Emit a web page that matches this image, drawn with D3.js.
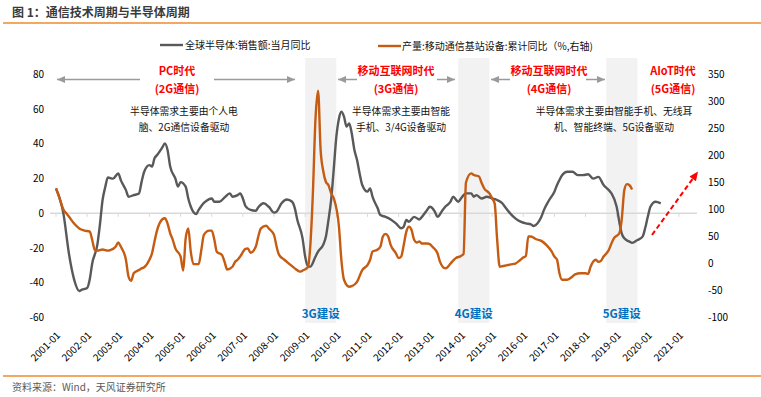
<!DOCTYPE html>
<html><head><meta charset="utf-8">
<script src="https://cdn.jsdelivr.net/npm/d3@7"></script>
<style>body{margin:0;background:#fff;} svg{display:block;font-family:"Noto Sans CJK SC","Noto Sans",sans-serif;}</style>
</head><body><svg id="c" width="761" height="397"></svg>
<script>
// ---------- DATA ----------
const semiDates = ["2001-01","2001-04","2001-06","2001-08","2001-10","2001-11","2002-01","2002-02","2002-03","2002-05","2002-06","2002-07","2002-08","2002-09","2002-11","2003-01","2003-02","2003-04","2003-05","2003-07","2003-09","2003-10","2003-11","2004-01","2004-02","2004-03","2004-04","2004-06","2004-07","2004-08","2004-09","2004-11","2004-12","2005-01","2005-03","2005-04","2005-05","2005-07","2005-08","2005-10","2005-11","2006-01","2006-02","2006-04","2006-06","2006-08","2006-09","2006-11","2006-12","2007-01","2007-02","2007-04","2007-06","2007-07","2007-09","2007-11","2008-01","2008-02","2008-04","2008-06","2008-08","2008-09","2008-10","2008-12","2009-01","2009-02","2009-03","2009-05","2009-06","2009-08","2009-09","2009-10","2009-11","2009-12","2010-01","2010-02","2010-03","2010-04","2010-05","2010-06","2010-07","2010-08","2010-09","2010-10","2010-11","2011-01","2011-02","2011-03","2011-05","2011-06","2011-08","2011-10","2011-12","2012-02","2012-03","2012-04","2012-05","2012-07","2012-09","2012-10","2012-12","2013-01","2013-03","2013-04","2013-06","2013-07","2013-09","2013-10","2013-12","2014-01","2014-03","2014-05","2014-06","2014-07","2014-09","2014-11","2015-01","2015-03","2015-05","2015-06","2015-08","2015-10","2015-12","2016-02","2016-04","2016-05","2016-07","2016-08","2016-09","2016-11","2017-01","2017-02","2017-03","2017-04","2017-06","2017-08","2017-10","2017-12","2018-02","2018-04","2018-06","2018-08","2018-10","2018-11","2019-01","2019-02","2019-03","2019-04","2019-06","2019-07","2019-09","2019-11","2019-12","2020-01","2020-02","2020-04","2020-06"];
const semiValues = [14.4,-1,-23,-38,-44.7,-44,-43,-38,-29,-18,-6,7.7,15,20.7,20,23,19,13.4,9.6,10.5,11.5,18,24,27.8,27,31.7,33.6,38,40.3,36.5,27,20,15.4,18,15.4,8.6,3.8,-0.4,2,6,7.3,8.6,6.7,6.7,9.2,11.5,9.6,10.5,11.5,8.6,4.2,2,1.5,3.5,5.8,3.8,0.4,1,6,8,6.7,3,-3.8,-14.4,-25,-30.3,-30.7,-25,-22,-18,-13.4,-3.8,7.7,25,44,54.7,58.5,55.7,50,51.8,46,36.5,30.7,23,16.3,12.5,14.4,9.6,2.9,-1,-2,-3.5,-5.8,-8.6,-7.7,-3.8,-4.8,-2,-3.5,-2,2,3.8,1,-2,2,3.8,6.7,9.6,6.7,8.6,11.5,11.5,9.6,10.5,8.6,9.6,8.6,7.7,5.8,3.8,0,-2.9,-4.8,-5.8,-6.3,-7.3,-4.8,-2,2,7.7,12.5,16.3,19.2,22,24,24,22,22,22.5,20,21,16.3,13.4,11.5,3.8,-4.8,-11.5,-14.4,-16.3,-17,-15.4,-13.4,-8.6,-2,3.8,6.7,5.8];

const baseDates = ["2001-01","2001-02","2001-04","2001-05","2001-06","2001-08","2001-10","2001-12","2002-02","2002-03","2002-04","2002-05","2002-07","2002-09","2002-10","2002-12","2003-01","2003-02","2003-04","2003-05","2003-06","2003-07","2003-09","2003-10","2003-11","2004-01","2004-02","2004-03","2004-04","2004-06","2004-07","2004-08","2004-09","2004-10","2004-11","2005-01","2005-02","2005-03","2005-04","2005-05","2005-06","2005-08","2005-09","2005-10","2005-12","2006-01","2006-02","2006-03","2006-05","2006-06","2006-07","2006-09","2006-10","2006-11","2006-12","2007-02","2007-03","2007-04","2007-06","2007-07","2007-08","2007-10","2007-11","2008-01","2008-02","2008-03","2008-05","2008-07","2008-09","2008-11","2008-12","2009-02","2009-03","2009-04","2009-05","2009-06","2009-07","2009-08","2009-09","2009-10","2009-11","2009-12","2010-02","2010-03","2010-04","2010-06","2010-07","2010-09","2010-11","2011-01","2011-02","2011-03","2011-05","2011-06","2011-07","2011-08","2011-09","2011-10","2011-12","2012-01","2012-02","2012-03","2012-04","2012-05","2012-06","2012-07","2012-08","2012-09","2012-10","2012-12","2013-01","2013-02","2013-04","2013-05","2013-07","2013-08","2013-09","2013-11","2014-01","2014-02","2014-03","2014-05","2014-06","2014-08","2014-09","2014-10","2014-12","2015-01","2015-02","2015-03","2015-04","2015-05","2015-07","2015-08","2015-09","2015-10","2015-12","2016-01","2016-02","2016-03","2016-04","2016-06","2016-08","2016-10","2016-12","2017-01","2017-02","2017-03","2017-04","2017-06","2017-08","2017-09","2017-11","2018-01","2018-02","2018-03","2018-05","2018-06","2018-07","2018-08","2018-10","2018-11","2018-12","2019-02","2019-03","2019-04","2019-05","2019-06","2019-07"];
const baseValues = [138,125,98,92,86,73,64,60,58,43,24,23,25,23,24,30,38,30,6,-25,-33,-19,-13,-10,-8,6,18,40,61,81,83,73,55,43,27,12,-14,45,64,20,-2,-2,24,52,60,60,43,21,15,2,-12,-7,2,6,12,26,27,19,30,49,64,69,64,52,30,15,6,-2,-10,-16,-14,-8,30,129,265,319,209,170,150,144,129,120,67,6,-31,-44,-43,-35,-13,-4,6,21,25,30,49,54,49,33,18,9,12,33,58,67,61,43,38,40,36,36,35,30,18,2,-10,-7,-1,9,13,17,149,166,163,160,148,138,129,120,110,45,-7,-6,-4,-3,-2,-1,6,10,13,49,49,44,41,33,21,12,6,-19,-31,-31,-25,-21,-19,-19,-20,-7,6,2,4,12,24,36,46,55,80,135,146,144,136];

const leftTicks = [80,60,40,20,0,-20,-40,-60];
const rightTicks = [350,300,250,200,150,100,50,0,-50,-100];
const yearTicks = ["2001-01","2002-01","2003-01","2004-01","2005-01","2006-01","2007-01","2008-01","2009-01","2010-01","2011-01","2012-01","2013-01","2014-01","2015-01","2016-01","2017-01","2018-01","2019-01","2020-01","2021-01"];
const buildLabels = ["3G建设","4G建设","5G建设"];
const buildStarts = ["2009-01","2013-12","2018-09"];
const buildEnds = ["2010-01","2014-12","2019-09"];
const seriesNames = ["全球半导体:销售额:当月同比","产量:移动通信基站设备:累计同比（%,右轴)"];

// ---------- SETUP ----------
const parse = d3.timeParse("%Y-%m");
const svg = d3.select("#c");
const FONT = '"Noto Sans CJK SC","Noto Sans",sans-serif';
const GRAY = "#595959", ORANGE = "#c65b12", RULE = "#ee8a2e";

const x = d3.scaleTime().domain([parse("2001-01"), parse("2021-01")]).range([56, 679]);
const yL = d3.scaleLinear().domain([-60, 80]).range([317.5, 74.5]);
const yR = d3.scaleLinear().domain([-100, 350]).range([317, 74]);

// title + rules
svg.append("text").attr("x", 12).attr("y", 17).attr("font-size", 12).attr("font-weight", "bold")
  .attr("fill", "#3a3a3a").text("图 1：通信技术周期与半导体周期");
svg.append("line").attr("x1", 3).attr("x2", 761).attr("y1", 23).attr("y2", 23).attr("stroke", RULE).attr("stroke-width", 1.3);
svg.append("line").attr("x1", 3).attr("x2", 761).attr("y1", 376).attr("y2", 376).attr("stroke", RULE).attr("stroke-width", 1.3);
svg.append("text").attr("x", 12).attr("y", 391).attr("font-size", 10).attr("fill", "#595959")
  .text("资料来源：Wind，天风证券研究所");

// shaded build periods
const builds = buildLabels.map((l, i) => ({label: l, s: parse(buildStarts[i]), e: parse(buildEnds[i])}));
svg.selectAll("rect.shade").data(builds).enter().append("rect").attr("class", "shade")
  .attr("x", d => x(d.s)).attr("width", d => x(d.e) - x(d.s))
  .attr("y", 58).attr("height", 265).attr("fill", "#f2f2f2");
svg.selectAll("text.build").data(builds).enter().append("text").attr("class", "build")
  .attr("x", d => (x(d.s) + x(d.e)) / 2).attr("y", 318).attr("text-anchor", "middle")
  .attr("font-size", 11.5).attr("font-weight", "bold").attr("fill", "#0070c0").text(d => d.label);

// zero line with ticks
svg.append("line").attr("x1", 50).attr("x2", 697).attr("y1", yL(0)).attr("y2", yL(0))
  .attr("stroke", "#d9d9d9").attr("stroke-width", 1.5);
svg.selectAll("line.zt").data(yearTicks).enter().append("line").attr("class", "zt")
  .attr("x1", d => x(parse(d))).attr("x2", d => x(parse(d)))
  .attr("y1", yL(0)).attr("y2", yL(0) + 3.5).attr("stroke", "#d9d9d9").attr("stroke-width", 1);

// axes labels
svg.selectAll("text.yl").data(leftTicks).enter().append("text").attr("class", "yl")
  .attr("x", 44).attr("y", d => yL(d) + 3.5).attr("text-anchor", "end").attr("font-size", 10)
  .attr("fill", "#000").text(d => d);
svg.selectAll("text.yr").data(rightTicks).enter().append("text").attr("class", "yr")
  .attr("x", 708).attr("y", d => yR(d) + 3.5).attr("text-anchor", "start").attr("font-size", 10)
  .attr("fill", "#000").text(d => d);
svg.selectAll("text.xl").data(yearTicks).enter().append("text").attr("class", "xl")
  .attr("transform", d => `translate(${x(parse(d)) + 5},336) rotate(-45)`)
  .attr("text-anchor", "end").attr("font-size", 10).attr("fill", "#000").text(d => d);

// lines
const semi = semiDates.map((d, i) => ({d: parse(d), v: semiValues[i]}));
const base = baseDates.map((d, i) => ({d: parse(d), v: baseValues[i]}));
svg.append("path").datum(semi).attr("fill", "none").attr("stroke", GRAY).attr("stroke-width", 2.4)
  .attr("stroke-linejoin", "round")
  .attr("d", d3.line().x(p => x(p.d)).y(p => yL(p.v)).curve(d3.curveMonotoneX));
svg.append("path").datum(base).attr("fill", "none").attr("stroke", ORANGE).attr("stroke-width", 2.4)
  .attr("stroke-linejoin", "round")
  .attr("d", d3.line().x(p => x(p.d)).y(p => yR(p.v)).curve(d3.curveMonotoneX));

// legend
svg.append("line").attr("x1", 160).attr("x2", 183).attr("y1", 45).attr("y2", 45).attr("stroke", GRAY).attr("stroke-width", 2.4);
svg.append("text").attr("x", 185).attr("y", 49).attr("font-size", 10).attr("fill", "#111").text(seriesNames[0]);
svg.append("line").attr("x1", 378).attr("x2", 401).attr("y1", 46).attr("y2", 46).attr("stroke", ORANGE).attr("stroke-width", 2.4);
svg.append("text").attr("x", 402).attr("y", 50).attr("font-size", 10).attr("fill", "#111").text(seriesNames[1]);

// era annotations
function arrowSeg(xTip, xEnd, y) {
  svg.append("line").attr("x1", xTip).attr("x2", xEnd).attr("y1", y).attr("y2", y)
    .attr("stroke", "#9a9a9a").attr("stroke-width", 1.5);
  const dir = xEnd > xTip ? 1 : -1;
  svg.append("path").attr("d", `M${xTip},${y} L${xTip + dir * 8},${y - 3.5} L${xTip + dir * 8},${y + 3.5} Z`)
    .attr("fill", "#9a9a9a");
}
const AY = 79.5;
arrowSeg(57, 140, AY); arrowSeg(295, 214, AY);
arrowSeg(338, 357, AY); arrowSeg(455, 437, AY);
arrowSeg(491, 510, AY); arrowSeg(605, 586, AY);

const eras = [
  {cx: 177, t: "PC时代", s: "(2G通信)", d1: "半导体需求主要由个人电", d2: "脑、2G通信设备驱动", dx: 184},
  {cx: 396, t: "移动互联网时代", s: "(3G通信)", d1: "半导体需求主要由智能", d2: "手机、3/4G设备驱动", dx: 401},
  {cx: 549, t: "移动互联网时代", s: "(4G通信)", d1: null, d2: null, dx: 0},
  {cx: 673, t: "AIoT时代", s: "(5G通信)", d1: "半导体需求主要由智能手机、无线耳", d2: "机、智能终端、5G设备驱动", dx: 614}
];
eras.forEach(e => {
  svg.append("text").attr("x", e.cx).attr("y", 75).attr("text-anchor", "middle").attr("font-size", 11)
    .attr("font-weight", "bold").attr("fill", "#ff0000").text(e.t);
  svg.append("text").attr("x", e.cx).attr("y", 93).attr("text-anchor", "middle").attr("font-size", 11)
    .attr("font-weight", "bold").attr("fill", "#ff0000").text(e.s);
  if (e.d1) {
    svg.append("text").attr("x", e.dx).attr("y", 115).attr("text-anchor", "middle").attr("font-size", 9.8)
      .attr("fill", "#111").text(e.d1);
    svg.append("text").attr("x", e.dx).attr("y", 131).attr("text-anchor", "middle").attr("font-size", 9.8)
      .attr("fill", "#111").text(e.d2);
  }
});

// red dashed trend arrow
svg.append("line").attr("x1", 652).attr("y1", 235).attr("x2", 694).attr("y2", 177)
  .attr("stroke", "#ff0000").attr("stroke-width", 2).attr("stroke-dasharray", "5,3");
(function () {
  const tx = 698, ty = 171.5, ang = Math.atan2(235 - 171.5, 652 - 698);
  const L = 9, W = 4;
  const bx = tx + L * Math.cos(ang), by = ty + L * Math.sin(ang);
  const px = -Math.sin(ang) * W, py = Math.cos(ang) * W;
  svg.append("path").attr("d", `M${tx},${ty} L${bx + px},${by + py} L${bx - px},${by - py} Z`).attr("fill", "#ff0000");
})();
</script></body></html>
